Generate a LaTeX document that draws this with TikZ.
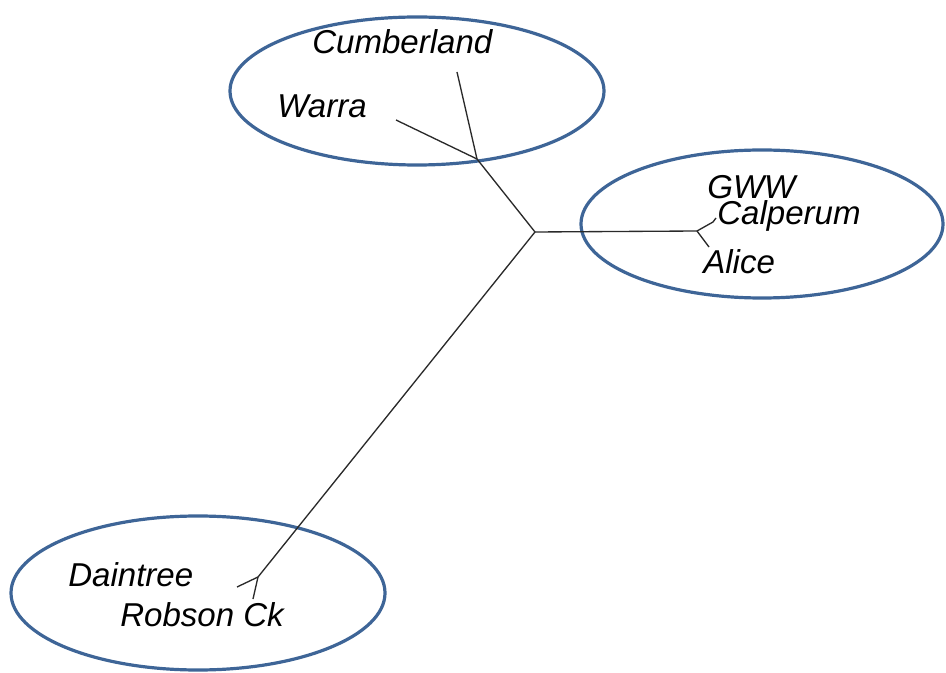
\documentclass[tikz,border=0pt]{standalone}
\usepackage{fontspec}
\setmainfont{Liberation Sans}
\definecolor{ellblue}{HTML}{3E6597}
\definecolor{treeline}{HTML}{2A2A2A}
\begin{document}
\begin{tikzpicture}[x=0.75pt,y=-0.75pt,
  grp/.style={draw=ellblue,line width=2.4pt},
  br/.style={draw=treeline,line width=1pt},
  lbl/.style={anchor=base west,inner sep=0pt,font=\itshape\fontsize{24.8}{28}\selectfont}]
\useasboundingbox (0,0) rectangle (946,673);
% groups
\draw[grp] (417,91) ellipse [x radius=187,y radius=74];
\draw[grp] (762,224) ellipse [x radius=181,y radius=74];
\draw[grp] (198,593) ellipse [x radius=187,y radius=77];
% tree nodes
\coordinate (c) at (535,232);
\coordinate (top) at (477,159);
\coordinate (cumb) at (457,72);
\coordinate (warra) at (396,120);
\coordinate (right) at (697,231);
\coordinate (calp) at (713,222);
\coordinate (calpt) at (716,218);
\coordinate (alice) at (709,247);
\coordinate (bot) at (258,577);
\coordinate (dain) at (237,587);
\coordinate (robs) at (253,599);
\draw[br] (c) -- (top);
\draw[br] (top) -- (cumb);
\draw[br] (top) -- (warra);
\draw[br] (c) -- (right);
\draw[br] (right) -- (calp) -- (calpt);
\draw[br] (right) -- (alice);
\draw[br] (c) -- (bot);
\draw[br] (bot) -- (dain);
\draw[br] (bot) -- (robs);
% labels
\node[lbl] (lcumb) at (312,54) {Cumberland};
\node[lbl] (lwarra) at (277,118) {Warra};
\node[lbl] (lgww) at (707,199) {GWW};
\node[lbl] (lcalp) at (717,225) {Calperum};
\node[lbl] (lalice) at (703,274) {Alice};
\node[lbl] (ldain) at (68,586) {Daintree};
\node[lbl] (lrobs) at (120,626) {Robson Ck};
\end{tikzpicture}
\end{document}
